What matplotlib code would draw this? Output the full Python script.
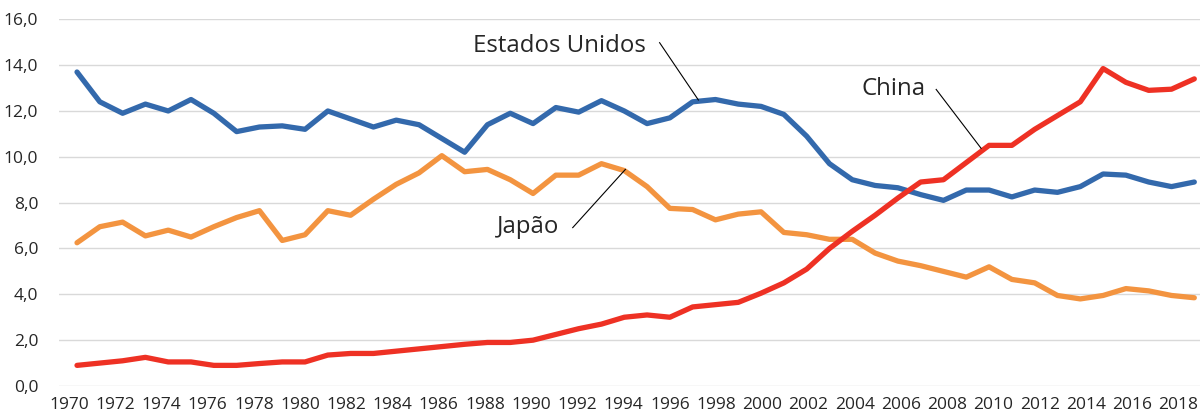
import numpy as np
import matplotlib
matplotlib.use("Agg")
import matplotlib.pyplot as plt

plt.rcParams['font.family'] = ['Open Sans', 'DejaVu Sans']

years = list(range(1970, 2020))

estados_unidos = [13.7, 12.4, 11.9, 12.3, 12.0, 12.5, 11.9, 11.1, 11.3, 11.35, 11.2,
                  12.0, 11.65, 11.3, 11.6, 11.4, 10.8, 10.2, 11.4, 11.9, 11.45,
                  12.15, 11.95, 12.45, 12.0, 11.45, 11.7, 12.4, 12.5, 12.3, 12.2,
                  11.85, 10.9, 9.7, 9.0, 8.75, 8.65, 8.35, 8.1, 8.55, 8.55,
                  8.25, 8.55, 8.45, 8.7, 9.25, 9.2, 8.9, 8.7, 8.9]
japao = [6.25, 6.95, 7.15, 6.55, 6.8, 6.5, 6.95, 7.35, 7.65, 6.35, 6.6,
         7.65, 7.45, 8.15, 8.8, 9.3, 10.05, 9.35, 9.45, 9.0, 8.4,
         9.2, 9.2, 9.7, 9.4, 8.7, 7.75, 7.7, 7.25, 7.5, 7.6,
         6.7, 6.6, 6.4, 6.4, 5.8, 5.45, 5.25, 5.0, 4.75, 5.2,
         4.65, 4.5, 3.95, 3.8, 3.95, 4.25, 4.15, 3.95, 3.85]
china = [0.9, 1.0, 1.1, 1.25, 1.05, 1.05, 0.9, 0.9, 0.98, 1.05, 1.05,
         1.35, 1.42, 1.42, 1.52, 1.62, 1.72, 1.82, 1.9, 1.9, 2.0,
         2.25, 2.5, 2.7, 3.0, 3.1, 3.0, 3.45, 3.55, 3.65, 4.05,
         4.5, 5.1, 6.0, 6.75, 7.45, 8.2, 8.9, 9.0, 9.75, 10.5,
         10.5, 11.2, 11.8, 12.4, 13.85, 13.25, 12.9, 12.95, 13.4]

fig = plt.figure(figsize=(12, 4.16), dpi=100)
ax = fig.add_axes([59 / 1200, 30 / 416, 1141 / 1200, 366.7 / 416])

ax.plot(years, estados_unidos, color='#3369AC', lw=3.8, solid_capstyle='round', solid_joinstyle='round')
ax.plot(years, japao, color='#F39440', lw=3.8, solid_capstyle='round', solid_joinstyle='round')
ax.plot(years, china, color='#EE3124', lw=3.8, solid_capstyle='round', solid_joinstyle='round')

ax.set_xlim(1969.21, 2019.25)
ax.set_ylim(0, 16)
ax.set_yticks(np.arange(0, 16.1, 2))
ax.set_yticklabels([f"{v:.1f}".replace('.', ',') for v in np.arange(0, 16.1, 2)])
# labels in the original sit a little off the data points (spread slightly wider)
label_years = years[::2]
ax.set_xticks([1969.65 + (y - 1970) * 1.0135 for y in label_years])
ax.set_xticklabels([str(y) for y in label_years])
ax.grid(axis='y', color='#D9D9D9', lw=1)
ax.set_axisbelow(True)
for s in ax.spines.values():
    s.set_visible(False)
ax.tick_params(length=0, labelsize=12.5, colors='#262626')
ax.tick_params(axis='y', pad=15)
ax.tick_params(axis='x', pad=8)

# series labels and leader lines
ax.text(1991.16, 14.59, 'Estados Unidos', fontsize=17.3, color='#262626', ha='center', va='baseline')
ax.plot([1995.55, 1997.25], [14.98, 12.48], color='black', lw=0.8)
ax.text(2005.83, 12.7, 'China', fontsize=17.3, color='#262626', ha='center', va='baseline')
ax.plot([2007.68, 2009.65], [12.94, 10.37], color='black', lw=0.8)
ax.text(1989.78, 6.68, 'Japão', fontsize=17.3, color='#262626', ha='center', va='baseline')
ax.plot([1991.74, 1994.05], [6.91, 9.45], color='black', lw=0.8)

fig.savefig('out.png', dpi=100)
